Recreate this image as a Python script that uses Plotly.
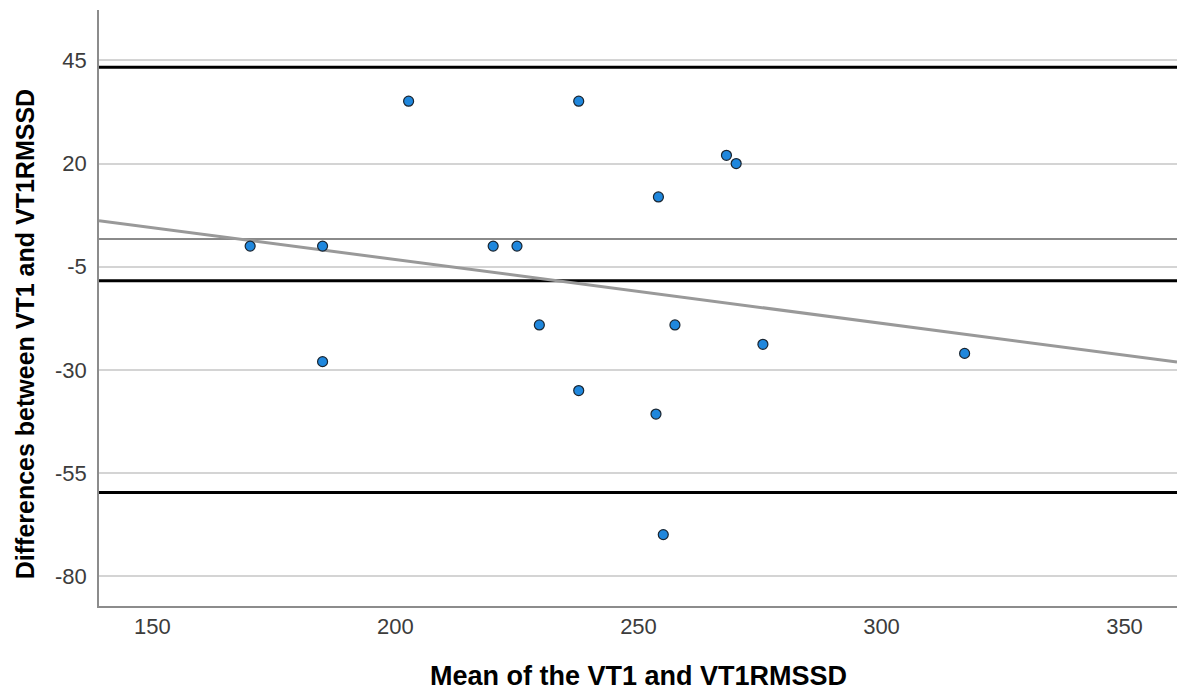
import plotly.graph_objects as go

# Bland-Altman data
mean_vals = [170.1, 185.0, 185.0, 202.7, 237.7, 220.1, 225.0, 229.6, 254.1,
             268.1, 270.1, 257.5, 275.6, 237.7, 253.6, 255.1, 317.1]
diff_vals = [0.0, 0.0, -28.0, 35.1, 35.1, 0.0, 0.0, -19.1, 11.9,
             22.0, 20.0, -19.1, -23.8, -35.0, -40.7, -69.9, -26.0]

upper_loa = 43.3
mean_diff = -8.4
lower_loa = -59.7
ref_line = 1.7

fit_intercept = 27.62
fit_slope = -0.15443

x_range = [139.0, 360.8]
y_range = [-87.2, 57.2]
x_ticks = [150, 200, 250, 300, 350]
y_ticks = [-80, -55, -30, -5, 20, 45]
y_tick_labels = ["-80", "-55", "-30", "-5", "20", "45"]

FONT = "Liberation Sans, Arial, sans-serif"

fig = go.Figure()

# reference line (gray)
fig.add_trace(go.Scatter(x=x_range, y=[ref_line, ref_line], mode="lines",
                         line=dict(color="#8a8a8a", width=2), hoverinfo="skip",
                         showlegend=False))
# limits of agreement and mean
for v in [upper_loa, mean_diff, lower_loa]:
    fig.add_trace(go.Scatter(x=x_range, y=[v, v], mode="lines",
                             line=dict(color="#000000", width=3), hoverinfo="skip",
                             showlegend=False))
# regression fit line
fit_y = [fit_intercept + fit_slope * xv for xv in x_range]
fig.add_trace(go.Scatter(x=x_range, y=fit_y, mode="lines",
                         line=dict(color="#999999", width=3), hoverinfo="skip",
                         showlegend=False))
# points
fig.add_trace(go.Scatter(x=mean_vals, y=diff_vals, mode="markers",
                         marker=dict(size=10, color="#1f87dd",
                                     line=dict(color="#1a2530", width=1.2)),
                         showlegend=False))

fig.update_layout(
    width=1177, height=691,
    margin=dict(l=99, r=0, t=10, b=85),
    paper_bgcolor="white", plot_bgcolor="white",
    font=dict(family=FONT, size=22, color="#3c3c3c"),
    showlegend=False,
)
fig.update_xaxes(range=x_range, tickmode="array", tickvals=x_ticks,
                 showgrid=False, zeroline=False, showline=True,
                 linecolor="#8c8c8c", linewidth=1.5, ticks="",
                 tickfont=dict(size=22, color="#3c3c3c"))
fig.update_yaxes(range=y_range, tickmode="array", tickvals=y_ticks,
                 ticktext=y_tick_labels,
                 showgrid=True, gridcolor="#d4d4d4", gridwidth=1.5,
                 zeroline=False, showline=True, linecolor="#8c8c8c",
                 linewidth=1.5, ticks="", ticklabelstandoff=6,
                 tickfont=dict(size=22, color="#3c3c3c"))

fig.add_annotation(text="<b>Mean of the VT1 and VT1RMSSD</b>",
                   xref="paper", yref="paper", x=0.5, y=-0.1174,
                   xanchor="center", yanchor="middle", showarrow=False,
                   font=dict(family=FONT, size=27, color="#000000"))
fig.add_annotation(text="<b>Differences between VT1 and VT1RMSSD</b>",
                   xref="paper", yref="paper", x=-0.0686, y=0.456,
                   xanchor="center", yanchor="middle", showarrow=False,
                   textangle=-90,
                   font=dict(family=FONT, size=25, color="#000000"))

fig.write_html("out.html",
               config={"displayModeBar": False},
               post_script="document.body.style.margin='0';"
                           "document.body.style.overflow='hidden';")
